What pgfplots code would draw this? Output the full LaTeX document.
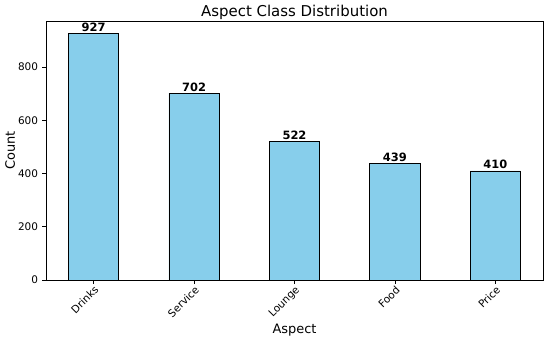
\documentclass[border=0pt]{standalone}
\usepackage{pgfplots}
\pgfplotsset{compat=1.18}
\usepackage{fontspec}
\setmainfont{DejaVu Sans}
\usetikzlibrary{calc}
\definecolor{skyblue}{HTML}{87CEEB}
\begin{document}
\begin{tikzpicture}
\begin{axis}[
  scale only axis,
  width=497bp, height=259bp,
  xmin=-0.475, xmax=4.475,
  ymin=0, ymax=973.35,
  xtick=data,
  xticklabels={Drinks,Service,Lounge,Food,Price},
  ytick={0,200,400,600,800},
  x tick label style={rotate=45, anchor=north east, font=\fontsize{10.5}{12}\selectfont, inner sep=1pt, xshift=0bp},
  y tick label style={font=\fontsize{10.5}{12}\selectfont, xshift=-1bp},
  /pgf/number format/assume math mode=true,
  tick align=outside,
  major tick length=3.5bp,
  tick style={black, line width=0.6pt},
  xtick pos=bottom, ytick pos=left,
  axis line style={black, line width=0.6pt},
  title={Aspect Class Distribution},
  title style={font=\fontsize{15}{17}\selectfont, yshift=-8bp},
  xlabel={Aspect},
  ylabel={Count},
  xlabel style={font=\fontsize{13}{15}\selectfont, yshift=0bp},
  ylabel style={font=\fontsize{13}{15}\selectfont, yshift=-4bp},
  ybar, bar width=0.5,
  bar shift=0pt,
  nodes near coords,
  nodes near coords style={font=\bfseries\fontsize{11.5}{13}\selectfont, inner sep=1.5pt, /pgf/number format/assume math mode=true},
]
\addplot[fill=skyblue, draw=black, line width=0.7pt] coordinates {(0,927) (1,702) (2,522) (3,439) (4,410)};
\end{axis}
\pgfresetboundingbox
\path ($(current axis.south west)+(-46bp,-57bp)$) rectangle ($(current axis.north east)+(7bp,21bp)$);
\end{tikzpicture}
\end{document}
